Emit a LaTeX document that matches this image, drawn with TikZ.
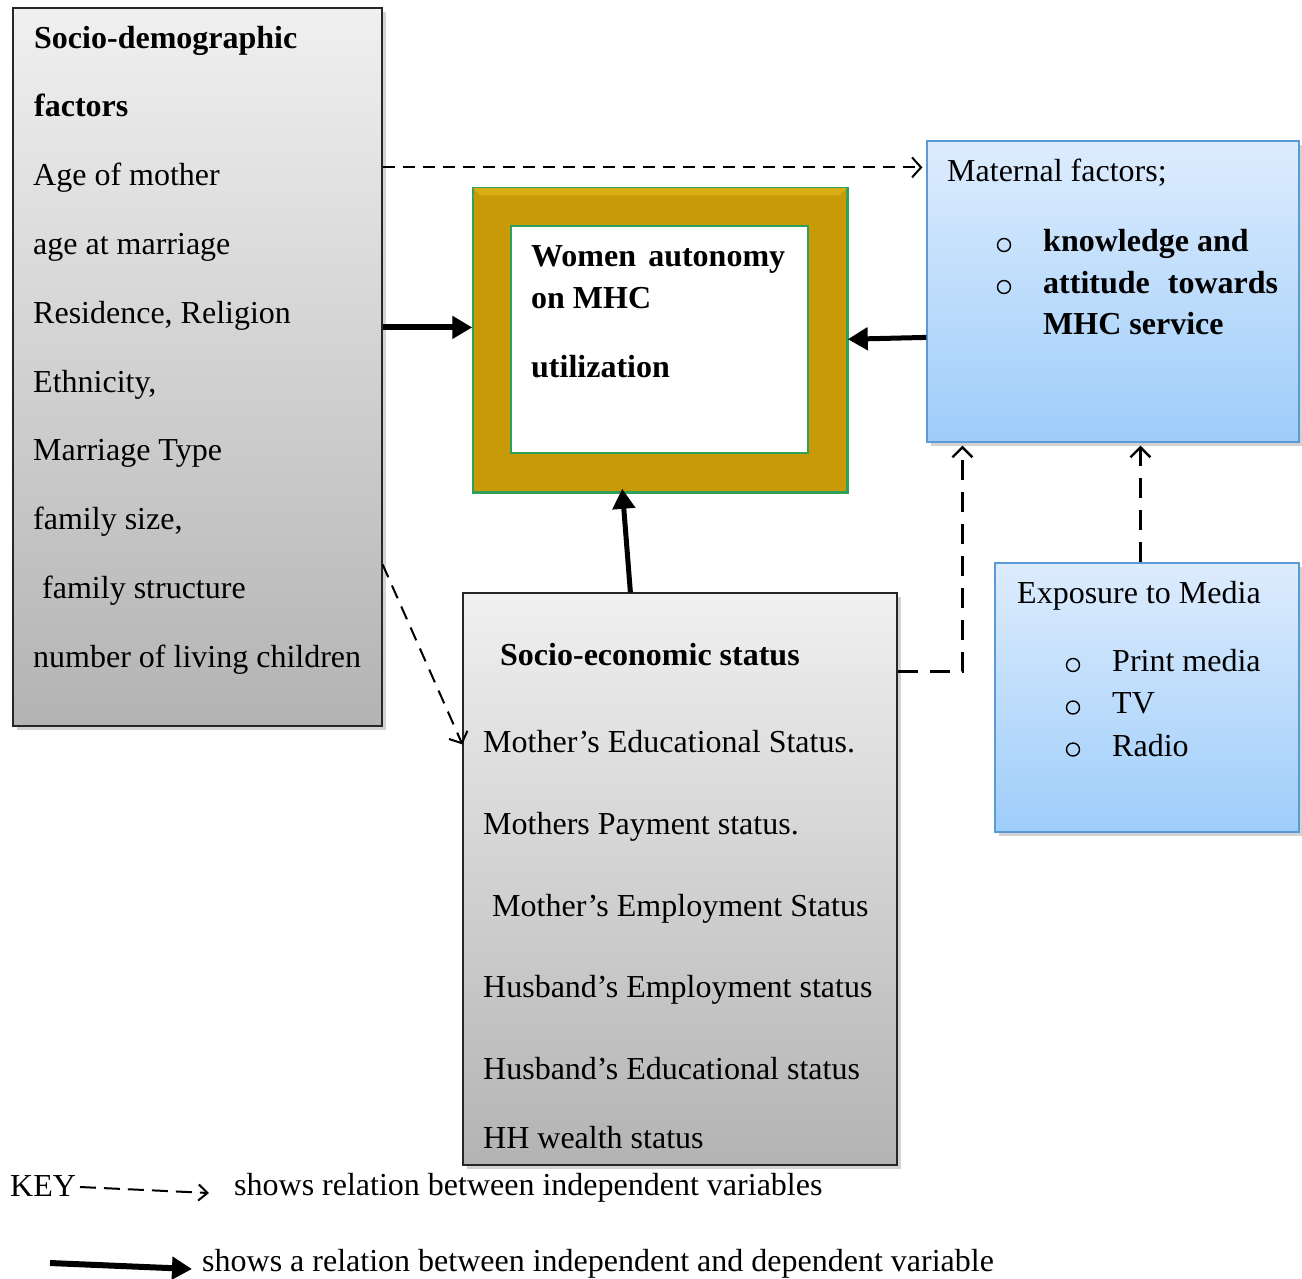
\documentclass[tikz,border=0pt]{standalone}
\usepackage{fontspec}
\setmainfont{Liberation Serif}
\usetikzlibrary{arrows.meta,shadows,calc}
\definecolor{grayTop}{HTML}{F0F0F0}
\definecolor{grayBot}{HTML}{B3B3B3}
\definecolor{blueTop}{HTML}{DDECFD}
\definecolor{blueBot}{HTML}{9ECDFA}
\definecolor{blueEdge}{HTML}{5B9BD5}
\definecolor{gold}{HTML}{C99A08}
\definecolor{goldlight}{HTML}{D9AE14}
\definecolor{framegreen}{HTML}{2FA05A}
\begin{document}
\begin{tikzpicture}[x=1pt,y=-1pt,
  box/.style={draw, rectangle, inner sep=0, line width=1.2pt,
    drop shadow={shadow xshift=4pt,shadow yshift=-4pt,opacity=0.35}},
  graybox/.style={box, draw=black!85, top color=grayTop, bottom color=grayBot},
  bluebox/.style={box, draw=blueEdge, top color=blueTop, bottom color=blueBot},
  txt/.style={anchor=base west, inner sep=0, font=\fontsize{32}{38}\selectfont},
  btxt/.style={anchor=base west, inner sep=0, font=\fontsize{32}{38}\selectfont\bfseries},
  bul/.style={circle, draw=black, line width=1.4pt, minimum size=13pt, inner sep=0},
  dasharrow/.style={line width=2pt, dash pattern=on 12pt off 8pt,
    -{Straight Barb[length=9pt,width=20pt,line width=2pt]}},
  ldash/.style={line width=2.8pt, dash pattern=on 20pt off 12pt,
    -{Straight Barb[length=10pt,width=20pt,line width=2.4pt]}},
  thickarrow/.style={line width=5pt, -{Triangle[length=20pt,width=22pt]}},
]
\useasboundingbox (0,0) rectangle (1302,1278);

% ---- boxes ----
\node[graybox, minimum width=369pt, minimum height=718pt] (sd) at (197.5,367) {};
\node[graybox, minimum width=434pt, minimum height=572pt] (ses) at (680,879) {};
\node[bluebox, minimum width=372pt, minimum height=301pt] (mat) at (1113,291.5) {};
\node[bluebox, minimum width=304pt, minimum height=269pt] (exp) at (1147,697.5) {};

% ---- central frame ----
\node[draw=framegreen, line width=1.5pt, fill=gold, minimum width=374pt, minimum height=304pt, inner sep=0] (frame) at (660,340) {};
\fill[goldlight] (frame.north west) -- (frame.north east) -- (808,226) -- (511,226) -- cycle;
\fill[gold] ([yshift=-8pt]frame.north west) -- ([yshift=-8pt]frame.north east) -- (808,226) -- (511,226) -- cycle;
\draw[framegreen, line width=1.5pt] (frame.north west) rectangle (frame.south east);
\node[draw=framegreen, line width=1.5pt, fill=white, minimum width=297pt, minimum height=227pt, inner sep=0] (inner) at (659.5,339.5) {};

% ---- left box text ----
\node[btxt] (sd0) at (34,48) {Socio-demographic};
\node[btxt] (sd1) at (34,116.8) {factors};
\node[txt] (sd2) at (33,185.6) {Age of mother};
\node[txt] (sd3) at (33,254.4) {age at marriage};
\node[txt] (sd4) at (33,323.2) {Residence, Religion};
\node[txt] (sd5) at (33,392) {Ethnicity,};
\node[txt] (sd6) at (33,460.8) {Marriage Type};
\node[txt] (sd7) at (33,529.6) {family size,};
\node[txt] (sd8) at (42,598.4) {family structure};
\node[txt] (sd9) at (33,667.2) {number of living children};

% ---- SES text ----
\node[btxt] (se0) at (500,665) {Socio-economic status};
\node[txt] (se1) at (483,752) {Mother’s Educational Status.};
\node[txt] (se2) at (483,834) {Mothers Payment status.};
\node[txt] (se3) at (492,916) {Mother’s Employment Status};
\node[txt] (se4) at (483,997) {Husband’s Employment status};
\node[txt] (se5) at (483,1079) {Husband’s Educational status};
\node[txt] (se6) at (483,1148) {HH wealth status};

% ---- maternal text ----
\node[txt] (m0) at (947,181) {Maternal factors;};
\node[bul] (mb1) at (1004,245) {};
\node[bul] (mb2) at (1004,287) {};
\node[btxt] (m1) at (1043,251) {knowledge and};
\node[btxt] (m2) at (1043,293) {\makebox[235pt][s]{attitude towards}};
\node[btxt] (m3) at (1043,334) {MHC service};

% ---- exposure text ----
\node[txt] (e0) at (1017,603) {Exposure to Media};
\node[bul] (eb1) at (1073,665) {};
\node[bul] (eb2) at (1073,707.5) {};
\node[bul] (eb3) at (1073,749.5) {};
\node[txt] (e1) at (1112,671) {Print media};
\node[txt] (e2) at (1112,713) {TV};
\node[txt] (e3) at (1112,756) {Radio};

% ---- centre text ----
\node[btxt] (w1) at (531,266) {\makebox[254pt][s]{Women autonomy}};
\node[btxt] (w2) at (531,308) {on MHC};
\node[btxt] (w3) at (531,377) {utilization};

% ---- connectors ----
\coordinate (p1) at ([yshift=-160pt]sd.north east);
\draw[dasharrow, shorten >=4pt] (p1) -- (p1 -| mat.west);
\coordinate (p2) at ([yshift=-320pt]sd.north east);
\draw[thickarrow, line width=6pt] (p2) -- (p2 -| frame.west);
\draw[thickarrow] ([yshift=-197pt]mat.north west) -- ([yshift=-152pt]frame.north east);
\draw[thickarrow] ([xshift=168pt]ses.north west) -- ([xshift=150pt,yshift=4pt]frame.south west);
\draw[dasharrow, dash pattern=on 14pt off 9pt] ([yshift=-557pt]sd.north east) -- ([yshift=-152pt]ses.north west);
\coordinate (p6) at ([yshift=-79pt]ses.north east);
\coordinate (p6b) at ([xshift=36pt]mat.south west);
\draw[ldash, shorten >=3pt] (p6) -| (p6b);
\coordinate (p7) at ([xshift=146pt]exp.north west);
\draw[ldash, shorten >=3pt] (p7) -- (p7 |- mat.south);

% ---- key ----
\node[txt] (key) at (10,1196) {KEY};
\coordinate (k1a) at (80,1187);
\coordinate (k1b) at (209,1193);
\draw[line width=2pt, dash pattern=on 16pt off 8pt, -{Straight Barb[length=9pt,width=16pt,line width=2pt]}] (k1a) -- (k1b);
\node[txt] (key1) at (234,1195) {shows relation between independent variables};
\coordinate (k2a) at (50,1263);
\coordinate (k2b) at (192,1269);
\draw[thickarrow, line width=6pt] (k2a) -- (k2b);
\node[txt] (key2) at (202,1271) {shows a relation between independent and dependent variable};
\end{tikzpicture}
\end{document}
